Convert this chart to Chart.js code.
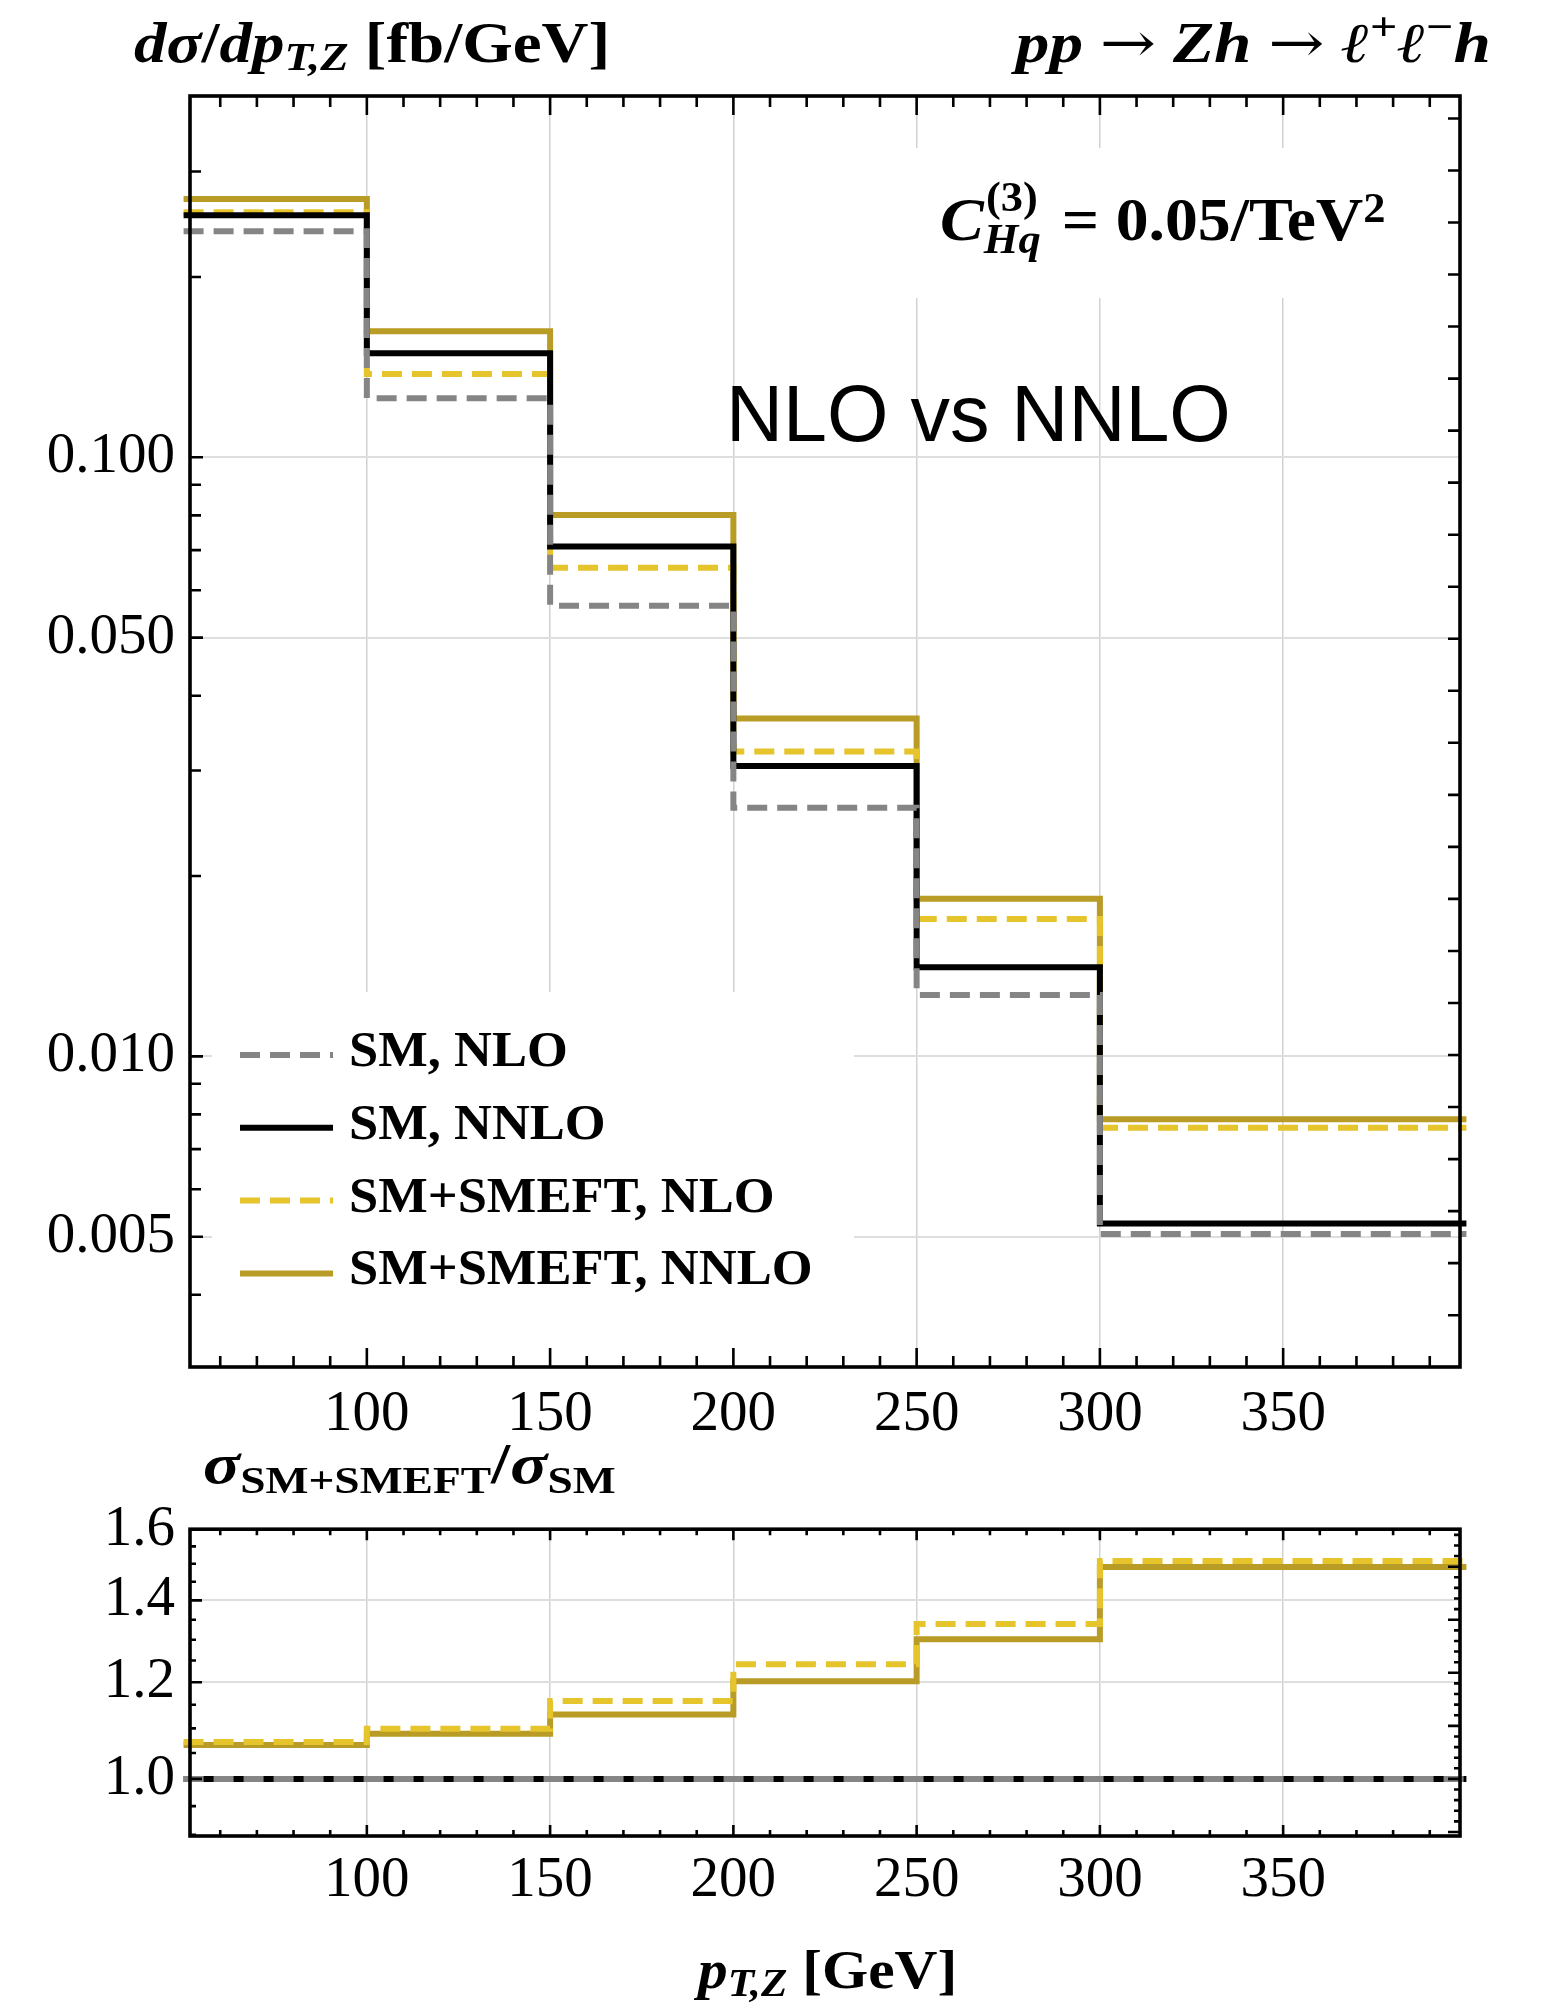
<!DOCTYPE html>
<html>
<head>
<meta charset="utf-8">
<script src="https://cdn.jsdelivr.net/npm/chart.js@4.4.1/dist/chart.umd.min.js"></script>
<style>
  html, body { margin: 0; padding: 0; background: #fff; }
  #page { position: relative; width: 1557px; height: 2006px; overflow: hidden; background: #fff; }
  canvas { position: absolute; left: 0; }
  .t { position: absolute; white-space: nowrap; line-height: 1; font-family: "Liberation Serif", "Times New Roman", serif; color: #000; font-weight: bold; transform-origin: left top; }
  .t i { font-style: italic; }
  .r { position: relative; }
  .arr { font-family: "DejaVu Serif", serif; font-weight: normal; }
  .sans { font-family: "Liberation Sans", Arial, sans-serif; font-weight: normal; }
</style>
</head>
<body>
<div id="page">
  <canvas id="main" width="1557" height="1480" style="top:0px"></canvas>
  <canvas id="ratio" width="1557" height="526" style="top:1480px"></canvas>

  <div class="t" style="left:134px; top:15px; font-size:56px; transform:scaleX(1.16)"><i>dσ</i>/<i>dp</i><span class="r" style="top:8px; font-size:40px"><i>T,Z</i></span> [fb/GeV]</div>

  <div class="t" style="right:66px; top:15px; font-size:56px; transform-origin:right top; transform:scaleX(1.2)"><i>pp</i> <span class="arr">→</span> <i>Zh</i> <span class="arr">→</span> <i>ℓ</i><span class="r" style="top:-22px; font-size:40px">+</span><i>ℓ</i><span class="r" style="top:-22px; font-size:40px">−</span><i>h</i></div>

  <div class="t" style="left:940px; top:188px; font-size:62px; transform:scaleX(1.06)"><i>C</i><span style="display:inline-block; position:relative; width:58px; height:31px; vertical-align:baseline"><span style="position:absolute; left:2px; top:-33px; font-size:42px">(3)</span><span style="position:absolute; left:0px; top:9px; font-size:42px"><i>Hq</i></span></span> = 0.05/TeV<span class="r" style="top:-18px; font-size:42px">2</span></div>

  <div class="t sans" style="left:726px; top:374px; font-size:79px">NLO vs NNLO</div>

  <div class="t" style="left:203px; top:1436px; font-size:56px; transform:scaleX(1.23)"><i>σ</i><span class="r" style="top:10px; font-size:37px">SM+SMEFT</span>/<i>σ</i><span class="r" style="top:10px; font-size:37px">SM</span></div>

  <div class="t" style="left:698px; top:1942px; font-size:55px; transform:scaleX(1.08)"><i>p</i><span class="r" style="top:8px; font-size:40px"><i>T,Z</i></span> [GeV]</div>
</div>

<script>
// Bin edges in p_T,Z [GeV]
const binEdges = [50, 100, 150, 200, 250, 300, 400];

// dσ/dp_T,Z [fb/GeV] per bin
const smNLO     = [0.2384, 0.1255, 0.0565, 0.02601, 0.01266, 0.00505];
const smNNLO    = [0.2535, 0.1492, 0.0710, 0.03053, 0.01408, 0.00526];
const smeftNLO  = [0.2565, 0.1378, 0.0654, 0.03227, 0.01695, 0.00760];
const smeftNNLO = [0.2700, 0.1623, 0.0801, 0.03666, 0.01832, 0.00785];

// σ(SM+SMEFT)/σ(SM) per bin
const ratioSM    = [1, 1, 1, 1, 1, 1];
const ratioNLO   = [1.072, 1.099, 1.158, 1.241, 1.339, 1.508];
const ratioNNLO  = [1.066, 1.089, 1.129, 1.202, 1.301, 1.491];

// Axis ticks and labels
const xTickValues = [100, 150, 200, 250, 300, 350];
const yTickValues = [0.005, 0.01, 0.05, 0.1];
const yTickLabels = ['0.005', '0.010', '0.050', '0.100'];
const ratioTickValues = [1.0, 1.2, 1.4, 1.6];
const ratioTickLabels = ['1.0', '1.2', '1.4', '1.6'];

const seriesNames = ['SM, NLO', 'SM, NNLO', 'SM+SMEFT, NLO', 'SM+SMEFT, NNLO'];

// ---- styling ----
const SERIF = '"Liberation Serif", "Times New Roman", serif';
const X_RANGE = [51.75, 398.25];
const Y_RANGE = [0.00303, 0.401];
const R_RANGE = [0.898, 1.601];
const LINE_W = 6;

const styles = [
  { color: '#858585', dash: [20, 10] },
  { color: '#000000', dash: [] },
  { color: '#e6c42c', dash: [20, 10] },
  { color: '#b99c25', dash: [] }
];

// Step outline for a histogram: one point per left edge, then the last right edge.
function stepPoints(values, dropTo) {
  const pts = values.map((v, i) => ({ x: binEdges[i], y: v }));
  const last = binEdges[binEdges.length - 1];
  pts.push({ x: last, y: values[values.length - 1] });
  if (dropTo !== undefined) pts.push({ x: last, y: dropTo });
  return pts;
}

function makeDatasets(seriesList, dropTo) {
  return seriesList.map((vals, i) => ({
    label: seriesNames[i],
    data: stepPoints(vals, dropTo),
    stepped: 'before',
    borderColor: styles[i].color,
    borderDash: styles[i].dash,
    borderWidth: LINE_W,
    borderCapStyle: 'butt',
    borderJoinStyle: 'miter',
    pointRadius: 0,
    fill: false,
    clip: false
  }));
}

function near(a, list) { return list.some(v => Math.abs(v - a) < 1e-9); }

// Frame drawn around the plot area with inward tick marks on all four sides
const frameTicks = {
  id: 'frameTicks',
  afterDatasetsDraw(chart, args, o) {
    const { ctx, chartArea: a } = chart;
    const xs = chart.scales.x, ys = chart.scales.y;
    ctx.save();
    ctx.strokeStyle = '#000';
    ctx.lineWidth = 2.6;
    ctx.lineCap = 'butt';
    ctx.beginPath();
    for (let v = 60; v <= 390; v += 10) {
      const px = xs.getPixelForValue(v);
      const len = (v % 50 === 0) ? o.xMajor : o.xMinor;
      ctx.moveTo(px, a.bottom); ctx.lineTo(px, a.bottom - len);
      ctx.moveTo(px, a.top); ctx.lineTo(px, a.top + len);
    }
    for (const t of o.left) {
      const py = ys.getPixelForValue(t.v);
      if (py < a.top + 1 || py > a.bottom - 1) continue;
      ctx.moveTo(a.left, py); ctx.lineTo(a.left + t.len, py);
    }
    for (const t of o.right) {
      const py = ys.getPixelForValue(t.v);
      if (py < a.top + 1 || py > a.bottom - 1) continue;
      ctx.moveTo(a.right, py); ctx.lineTo(a.right - t.len, py);
    }
    ctx.stroke();
    ctx.lineWidth = 3.6;
    ctx.strokeRect(a.left, a.top, a.right - a.left, a.bottom - a.top);
    ctx.restore();
  }
};

// White panels behind the legend and the coupling label, then the legend itself
const insetBoxes = {
  id: 'insetBoxes',
  beforeDatasetsDraw(chart, args, o) {
    const ctx = chart.ctx;
    ctx.save();
    ctx.fillStyle = '#fff';
    for (const b of o.boxes) ctx.fillRect(b[0], b[1], b[2] - b[0], b[3] - b[1]);
    ctx.restore();
  },
  afterDatasetsDraw(chart, args, o) {
    if (!o.legend) return;
    const ctx = chart.ctx;
    const L = o.legend;
    ctx.save();
    chart.data.datasets.forEach((ds, i) => {
      const yLine = L.y0 + i * L.dy;
      ctx.strokeStyle = ds.borderColor;
      ctx.lineWidth = LINE_W;
      ctx.lineCap = 'butt';
      ctx.setLineDash(ds.borderDash || []);
      ctx.beginPath();
      ctx.moveTo(L.x0, yLine);
      ctx.lineTo(L.x1, yLine);
      ctx.stroke();
      ctx.setLineDash([]);
      ctx.save();
      ctx.translate(L.tx, yLine + L.base);
      ctx.scale(L.sx, 1);
      ctx.fillStyle = '#000';
      ctx.font = 'bold ' + L.size + 'px ' + SERIF;
      ctx.textBaseline = 'alphabetic';
      ctx.textAlign = 'left';
      ctx.fillText(ds.label, 0, 0);
      ctx.restore();
    });
    ctx.restore();
  }
};

function buildLeftLog(min, max, majors) {
  const out = [];
  for (let d = 0.001; d <= 1; d *= 10) {
    for (let m = 1; m <= 9; m++) {
      const v = +(m * d).toPrecision(6);
      if (v > min && v < max) out.push({ v, len: near(v, majors) ? 13 : 11 });
    }
  }
  return out;
}
function buildLnTicks(min, max, step, longEvery, longLen, shortLen) {
  const out = [];
  const k0 = Math.ceil(Math.log(min) / step), k1 = Math.floor(Math.log(max) / step);
  for (let k = k0; k <= k1; k++) {
    out.push({ v: Math.exp(k * step), len: (longEvery && k % longEvery === 0) ? longLen : shortLen });
  }
  return out;
}
function buildLinear(min, max, step, majors, majorLen, minorLen) {
  const out = [];
  for (let v = Math.ceil(min / step) * step; v <= max + 1e-9; v += step) {
    const vv = +v.toFixed(4);
    out.push({ v: vv, len: near(vv, majors) ? majorLen : minorLen });
  }
  return out;
}

function xScale(pad) {
  return {
    type: 'linear',
    min: X_RANGE[0], max: X_RANGE[1],
    afterBuildTicks: s => { s.ticks = xTickValues.map(v => ({ value: v })); },
    afterFit: s => { s.height = 90; },
    ticks: { font: { family: SERIF, size: 57 }, color: '#000', padding: pad, maxRotation: 0, autoSkip: false, callback: v => String(v) },
    grid: { color: '#d2d2d2', lineWidth: 1.5, drawTicks: false },
    border: { display: false }
  };
}

const common = {
  responsive: false,
  animation: false,
  events: [],
  devicePixelRatio: 1
};

new Chart(document.getElementById('main'), {
  type: 'line',
  data: { datasets: makeDatasets([smNLO, smNNLO, smeftNLO, smeftNNLO], Y_RANGE[0]) },
  options: {
    ...common,
    layout: { padding: { left: 40, right: 97, top: 96, bottom: 23 } },
    scales: {
      x: xScale(14),
      y: {
        type: 'logarithmic',
        min: Y_RANGE[0], max: Y_RANGE[1],
        afterBuildTicks: s => { s.ticks = yTickValues.map(v => ({ value: v })); },
        afterFit: s => { s.width = 150; },
        ticks: { font: { family: SERIF, size: 57 }, color: '#000', padding: 15, autoSkip: false,
                 callback: v => yTickLabels[yTickValues.findIndex(t => Math.abs(t - v) < 1e-12)] },
        grid: { color: '#dedede', lineWidth: 2, drawTicks: false },
        border: { display: false }
      }
    },
    plugins: {
      legend: { display: false },
      tooltip: { enabled: false },
      frameTicks: {
        xMajor: 19, xMinor: 11,
        left: buildLeftLog(Y_RANGE[0], Y_RANGE[1], yTickValues),
        right: buildLnTicks(Y_RANGE[0], Y_RANGE[1], 0.2, 0, 12, 12)
      },
      insetBoxes: {
        boxes: [[212, 992, 854, 1348], [900, 148, 1455, 298]],
        legend: { x0: 240, x1: 333, tx: 349, y0: 1055, dy: 72.8, base: 11, size: 50, sx: 1.05 }
      }
    }
  },
  plugins: [insetBoxes, frameTicks]
});

new Chart(document.getElementById('ratio'), {
  type: 'line',
  data: { datasets: makeDatasets([ratioSM, ratioSM, ratioNLO, ratioNNLO]) },
  options: {
    ...common,
    layout: { padding: { left: 40, right: 97, top: 38, bottom: 80 } },
    scales: {
      x: xScale(11),
      y: {
        type: 'logarithmic',
        min: R_RANGE[0], max: R_RANGE[1],
        afterBuildTicks: s => { s.ticks = ratioTickValues.map(v => ({ value: v })); },
        afterFit: s => { s.width = 150; },
        ticks: { font: { family: SERIF, size: 57 }, color: '#000', padding: 15, autoSkip: false,
                 callback: v => ratioTickLabels[ratioTickValues.findIndex(t => Math.abs(t - v) < 1e-9)] },
        grid: { color: '#dedede', lineWidth: 2, drawTicks: false },
        border: { display: false }
      }
    },
    plugins: {
      legend: { display: false },
      tooltip: { enabled: false },
      frameTicks: {
        xMajor: 11, xMinor: 6,
        left: buildLinear(0.9, 1.6, 0.05, ratioTickValues, 12, 6),
        right: buildLnTicks(R_RANGE[0], R_RANGE[1], 0.02, 5, 12, 6)
      },
      insetBoxes: { boxes: [] }
    }
  },
  plugins: [insetBoxes, frameTicks]
});
</script>
</body>
</html>
